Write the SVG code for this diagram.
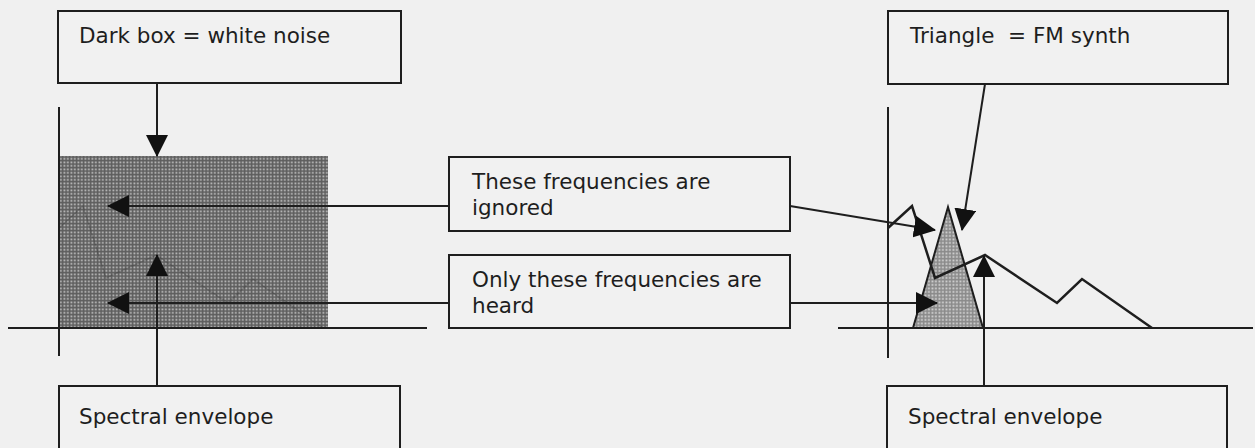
<svg xmlns="http://www.w3.org/2000/svg" width="1255" height="448" viewBox="0 0 1255 448">
<style>
.box{fill:#f1f1f1;stroke:#1e1e1e;stroke-width:2}
.lbl{font-family:"DejaVu Sans","Liberation Sans",sans-serif;font-size:21.5px;fill:#1e1e1e}
.ax{stroke:#1e1e1e;stroke-width:2;fill:none}
.con{stroke:#1e1e1e;stroke-width:2;fill:none}
.env{stroke:#1e1e1e;stroke-width:2.5;fill:none;stroke-linejoin:miter}
</style>
<defs>
<marker id="ah" markerUnits="userSpaceOnUse" markerWidth="22" markerHeight="22" viewBox="0 0 22 22" refX="21" refY="11" orient="auto">
<path d="M0,0 L22,11 L0,22 Z" fill="#111"/>
</marker>
<pattern id="noise" width="3.5" height="3.5" patternUnits="userSpaceOnUse">
<rect width="3.5" height="3.5" fill="#5e5e5e"/>
<rect x="0.5" y="0.5" width="1.7" height="1.7" fill="#c8c8c8"/>
</pattern>
<pattern id="fm" width="3.5" height="3.5" patternUnits="userSpaceOnUse">
<rect width="3.5" height="3.5" fill="#8a8a8a"/>
<rect x="0.5" y="0.5" width="1.8" height="1.8" fill="#d8d8d8"/>
</pattern>
</defs>
<rect width="1255" height="448" fill="#f0f0f0"/>

<g id="plot-left">
<rect x="58" y="156" width="270" height="172" fill="url(#noise)"/>
<polyline points="59,228 83,206 106,278 156,255 228,303 253,279 323,328" stroke="#2a2a2a" stroke-width="1.5" fill="none" opacity="0.25"/>
<line class="ax" x1="59" y1="107" x2="59" y2="356"/>
<line class="ax" x1="8" y1="328" x2="427" y2="328"/>
</g>

<g id="plot-right">
<polygon points="913,328 948,207 983,328" fill="url(#fm)" stroke="#1e1e1e" stroke-width="2"/>
<polyline class="env" points="888,228 912,206 935,278 985,255 1057,303 1082,279 1152,328"/>
<line class="ax" x1="888" y1="107" x2="888" y2="358"/>
<line class="ax" x1="838" y1="328" x2="1253" y2="328"/>
</g>

<g id="node-dark-box">
<rect class="box" x="58" y="11" width="343" height="72"/>
<text class="lbl" x="79" y="43">Dark box = white noise</text>
</g>

<g id="node-triangle">
<rect class="box" x="888" y="11" width="340" height="73"/>
<text class="lbl" x="910" y="43" xml:space="preserve">Triangle  = FM synth</text>
</g>

<g id="node-ignored">
<rect class="box" x="449" y="157" width="341" height="74"/>
<text class="lbl" x="472" y="189">These frequencies are</text>
<text class="lbl" x="472" y="215">ignored</text>
</g>

<g id="node-heard">
<rect class="box" x="449" y="255" width="341" height="73"/>
<text class="lbl" x="472" y="287">Only these frequencies are</text>
<text class="lbl" x="472" y="313">heard</text>
</g>

<g id="node-envelope-left">
<rect class="box" x="59" y="386" width="341" height="80"/>
<text class="lbl" x="79" y="424">Spectral envelope</text>
</g>

<g id="node-envelope-right">
<rect class="box" x="887" y="386" width="340" height="80"/>
<text class="lbl" x="908" y="424">Spectral envelope</text>
</g>

<g id="connectors">
<line class="con" x1="157" y1="83" x2="157" y2="156" marker-end="url(#ah)"/>
<line class="con" x1="449" y1="206" x2="108" y2="206" marker-end="url(#ah)"/>
<line class="con" x1="449" y1="303" x2="108" y2="303" marker-end="url(#ah)"/>
<line class="con" x1="157" y1="386" x2="157" y2="255" marker-end="url(#ah)"/>
<line class="con" x1="790" y1="206" x2="935" y2="230" marker-end="url(#ah)"/>
<line class="con" x1="790" y1="303" x2="937" y2="303" marker-end="url(#ah)"/>
<line class="con" x1="985" y1="84" x2="962" y2="230" marker-end="url(#ah)"/>
<line class="con" x1="984" y1="386" x2="984" y2="256" marker-end="url(#ah)"/>
</g>
</svg>
